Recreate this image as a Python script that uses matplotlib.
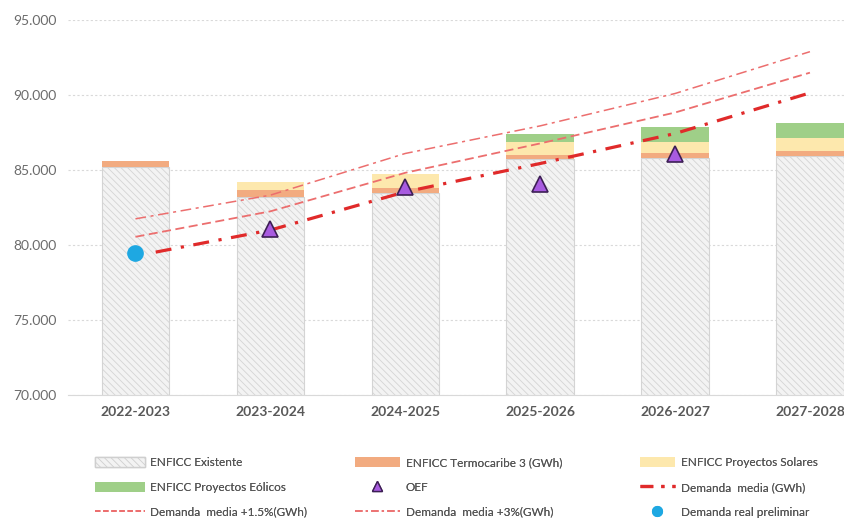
import matplotlib.pyplot as plt
import numpy as np
from matplotlib.lines import Line2D
from matplotlib.patches import Patch

plt.rcParams['font.family'] = ['Lato', 'DejaVu Sans']
plt.rcParams['hatch.linewidth'] = 0.6

periodos = ["2022-2023", "2023-2024", "2024-2025", "2025-2026", "2026-2027", "2027-2028"]

# GWh
enficc_existente = [85200, 83220, 83470, 85710, 85780, 85950]
termocaribe = [400, 430, 330, 290, 330, 340]
solares = [0, 570, 930, 890, 780, 820]
eolicos = [0, 0, 0, 550, 960, 1000]

oef_idx = [1, 2, 3, 4]
oef = [81050, 83850, 84100, 86050]

demanda_media = [79450, 81000, 83550, 85440, 87440, 90150]
demanda_15 = [80550, 82250, 84820, 86780, 88840, 91500]
demanda_3 = [81750, 83330, 86110, 87950, 90110, 92900]

real_idx = [0]
demanda_real = [79500]

c_exist = '#f3f3f3'
c_termo = '#f2ab80'
c_solar = '#fde8ad'
c_eolico = '#9fcf88'
c_red = '#e02a2a'
c_red_l = '#ec6e6e'

fig = plt.figure(figsize=(8.45, 5.18), dpi=100)
ax = fig.add_axes([0.0805, 0.2375, 0.9195, 0.7235])

x = np.arange(len(periodos))
w = 0.5
b1 = np.array(enficc_existente, dtype=float)
b2 = b1 + np.array(termocaribe)
b3 = b2 + np.array(solares)

ax.bar(x, enficc_existente, w, color=c_exist, edgecolor='#d4d4d4', hatch='\\\\\\\\\\', linewidth=0.8, zorder=2)
ax.bar(x, termocaribe, w, bottom=b1, color=c_termo, edgecolor='none', zorder=2)
ax.bar(x, solares, w, bottom=b2, color=c_solar, edgecolor='none', zorder=2)
ax.bar(x, eolicos, w, bottom=b3, color=c_eolico, edgecolor='none', zorder=2)

ax.plot(x, demanda_3, color=c_red_l, lw=1.1, dashes=(7, 3, 2, 3), zorder=3)
ax.plot(x, demanda_15, color=c_red_l, lw=1.3, dashes=(5, 2.5), zorder=3)
ax.plot(x[1:], demanda_media[1:], color=c_red, lw=2.3, dashes=(5, 3, 1, 3), zorder=3)
ax.plot([x[0] + 0.15, x[1]], [demanda_media[0] + 80, demanda_media[1]], color=c_red, lw=2.3,
        dashes=(5, 3, 1, 3), zorder=3)

ax.plot(oef_idx, oef, linestyle='none', marker='^', markersize=11, markerfacecolor='#a85be0',
        markeredgecolor='#3d1f55', markeredgewidth=1.2, zorder=4)
ax.plot(real_idx, demanda_real, linestyle='none', marker='o', markersize=11,
        color='#1ea8e2', zorder=4)

ax.set_ylim(70000, 95000)
ax.set_xlim(-0.5, 5.26)
ax.set_yticks(np.arange(70000, 95001, 5000))
ax.set_yticklabels([f"{v:,.0f}".replace(",", ".") for v in np.arange(70000, 95001, 5000)],
                   color='#6b6b6b', fontsize=10)
ax.set_xticks(x)
ax.set_xticklabels(periodos, fontweight='bold', color='#595959', fontsize=10)
ax.tick_params(length=0, pad=8)
ax.tick_params(axis='y', pad=8)
ax.grid(axis='y', color='#d9d9d9', linestyle=(0, (2, 2)), linewidth=0.8, zorder=0)
for s in ['top', 'right', 'left']:
    ax.spines[s].set_visible(False)
ax.spines['bottom'].set_color('#d9d9d9')

h_exist = Patch(facecolor=c_exist, edgecolor='#cfcfcf', hatch='\\\\\\\\\\', label='ENFICC Existente')
h_termo = Patch(facecolor=c_termo, label='ENFICC Termocaribe 3 (GWh)')
h_solar = Patch(facecolor=c_solar, label='ENFICC Proyectos Solares')
h_eol = Patch(facecolor=c_eolico, label='ENFICC Proyectos Eólicos')
h_oef = Line2D([], [], linestyle='none', marker='^', markersize=7, markerfacecolor='#a85be0',
               markeredgecolor='#3d1f55', label='OEF')
h_med = Line2D([], [], color=c_red, lw=2.3, dashes=(4, 2.5, 1, 2.5), label='Demanda  media (GWh)')
h_15 = Line2D([], [], color=c_red_l, lw=1.3, dashes=(3, 1.5), label='Demanda  media +1.5%(GWh)')
h_3 = Line2D([], [], color=c_red_l, lw=1.1, dashes=(5, 2, 1.5, 2), label='Demanda  media +3%(GWh)')
h_real = Line2D([], [], linestyle='none', marker='o', markersize=7, color='#1ea8e2',
                label='Demanda real preliminar')

columnas = [([h_exist, h_eol, h_15], 0.1124, 4.2),
            ([h_termo, h_oef, h_3], 0.420, 3.8),
            ([h_solar, h_med, h_real], 0.757, 3.0)]
for hs, x0, hl in columnas:
    leg = fig.legend(handles=hs, loc='upper left', bbox_to_anchor=(x0, 0.118), ncol=1,
                     frameon=False, fontsize=8.5, labelcolor='#555555', handlelength=hl,
                     handleheight=1.0, labelspacing=1.13, handletextpad=0.5,
                     borderaxespad=0, borderpad=0)
    fig.add_artist(leg)

fig.savefig('out.png', dpi=100)
